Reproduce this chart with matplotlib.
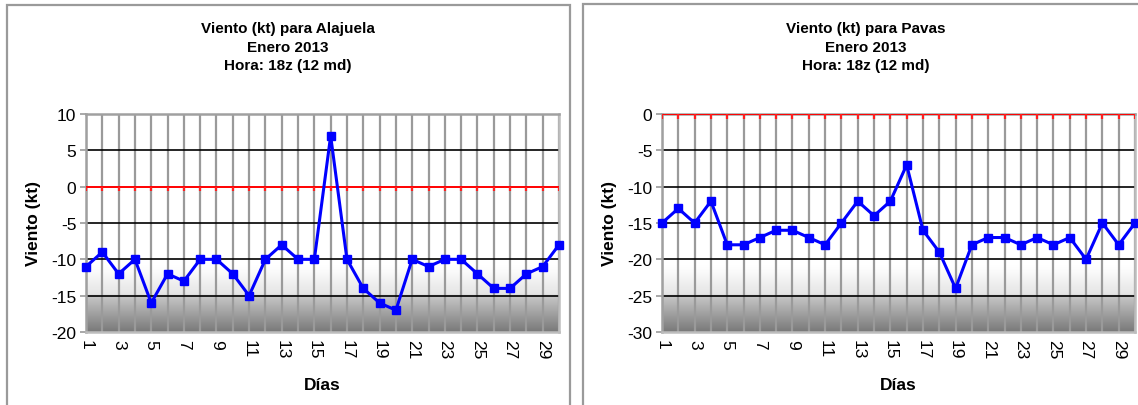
import numpy as np
import matplotlib
matplotlib.use("Agg")
import matplotlib.pyplot as plt
from matplotlib.colors import LinearSegmentedColormap
from matplotlib.patches import Rectangle

plt.rcParams['font.family'] = ['Liberation Sans', 'DejaVu Sans']

# Daily wind at 18z, January 2013
days = list(range(1, 31))
alajuela = [-11, -9, -12, -10, -16, -12, -13, -10, -10, -12,
            -15, -10, -8, -10, -10, 7, -10, -14, -16, -17,
            -10, -11, -10, -10, -12, -14, -14, -12, -11, -8]
pavas = [-15, -13, -15, -12, -18, -18, -17, -16, -16, -17,
         -18, -15, -12, -14, -12, -7, -16, -19, -24, -18,
         -17, -17, -18, -17, -18, -17, -20, -15, -18, -15]

titles = ["Viento (kt) para Alajuela\nEnero 2013\nHora: 18z (12 md)",
          "Viento (kt) para Pavas\nEnero 2013\nHora: 18z (12 md)"]
y_ranges = [(-20, 10), (-30, 0)]
x_label = "Días"
y_label = "Viento (kt)"

W, H = 1138, 406
fig = plt.figure(figsize=(W / 100, H / 100), dpi=100)

# plot-area background: white fading into grey toward the bottom
bg_cmap = LinearSegmentedColormap.from_list(
    "plotbg",
    [(0.0, "#ffffff"), (0.70, "#ffffff"), (0.832, "#e4e4e4"),
     (0.834, "#c8c8c8"), (1.0, "#7a7a7a")])
grad = np.linspace(0, 1, 400).reshape(-1, 1)


def px(x0, y0, w, h):
    return [x0 / W, 1 - (y0 + h) / H, w / W, h / H]


def draw_chart(ax, values, ylo, yhi):
    ax.imshow(grad, cmap=bg_cmap, aspect='auto', extent=(1, 30, ylo, yhi),
              origin='upper', zorder=0, interpolation='bilinear')
    ax.set_xlim(1, 30)
    ax.set_ylim(ylo, yhi)
    # vertical category gridlines
    for d in days:
        ax.axvline(d, color='#9a9a9a', lw=1.6, zorder=1)
    # horizontal major gridlines
    yt = np.arange(ylo, yhi + 1, 5)
    for v in yt:
        if v in (ylo, yhi) or v == 0:
            continue
        ax.axhline(v, color='black', lw=1.2, zorder=2)
    # category axis crossing at zero, with red tick marks
    ax.axhline(0, color='#ff0000', lw=1.4, zorder=3)
    ax.vlines(days, 0, -0.65, color='#ff2020', lw=1.6, zorder=3)
    ax.plot(days, values, color='#0000ff', lw=2.2, marker='s',
            markersize=6, markerfacecolor='#0000ff',
            markeredgecolor='#0000ff', zorder=5, clip_on=False)
    ax.set_yticks(yt)
    ax.set_yticklabels([str(v) for v in yt], fontsize=12.5)
    ax.set_xticks(days)
    ax.set_xticklabels([str(d) if d % 2 == 1 else "" for d in days],
                       rotation=270, fontsize=12.5, va='top', ha='center')
    ax.tick_params(axis='x', length=0, pad=5)
    ax.tick_params(axis='y', length=4, width=1.2, color='#999999', pad=3)
    for side in ('left', 'top'):
        ax.spines[side].set_color('#a0a0a0')
        ax.spines[side].set_linewidth(1.8)
    for side in ('right', 'bottom'):
        ax.spines[side].set_color('#bdbdbd')
        ax.spines[side].set_linewidth(1.8)
    ax.set_xlabel(x_label, fontsize=12.5, fontweight='bold', labelpad=13)
    ax.set_ylabel(y_label, fontsize=12.5, fontweight='bold', labelpad=7)


# chart frames
fig.patches.append(Rectangle((7 / W, -0.05), (570 - 7) / W, 1 - 6 / H + 0.05,
                             transform=fig.transFigure, fill=False,
                             edgecolor='#9a9a9a', lw=1.6))
fig.patches.append(Rectangle((583 / W, -0.05), (1160 - 583) / W, 1 - 5 / H + 0.05,
                             transform=fig.transFigure, fill=False,
                             edgecolor='#9a9a9a', lw=1.6))

ax1 = fig.add_axes(px(86, 115, 473, 218))
ax2 = fig.add_axes(px(662, 115, 473, 218))
draw_chart(ax1, alajuela, *y_ranges[0])
draw_chart(ax2, pavas, *y_ranges[1])

fig.text(288 / W, 1 - 47.5 / H, titles[0], ha='center', va='center',
         fontsize=11, fontweight='bold', linespacing=1.38)
fig.text(866 / W, 1 - 47.5 / H, titles[1], ha='center', va='center',
         fontsize=11, fontweight='bold', linespacing=1.38)

fig.savefig("out.png", dpi=100)
